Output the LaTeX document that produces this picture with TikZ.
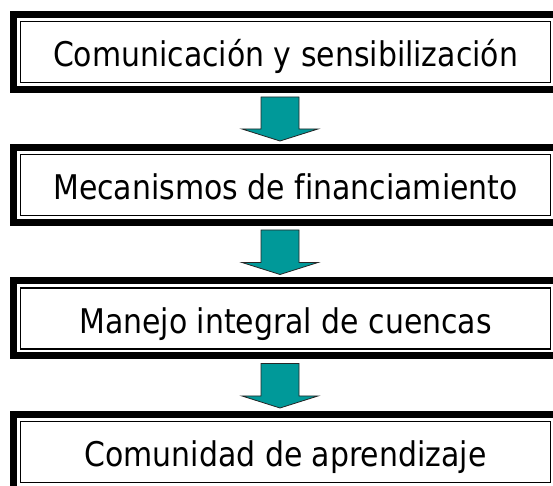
\documentclass[tikz,border=0pt]{standalone}
\usepackage{fontspec}
\setmainfont[FakeStretch=0.88, Ligatures=NoCommon]{DejaVu Sans}
\usepackage{tikz}
\usetikzlibrary{calc}
\usepackage{xcolor}

\definecolor{arrowteal}{RGB}{0,153,153}

\tikzset{
    stage/.style={draw, line width=1.5pt, outer sep=0pt, inner sep=0pt,
        minimum width=530pt, minimum height=61pt,
        text height=36pt, text depth=6pt,
        font=\fontsize{34}{40}\selectfont},
    outerframe/.style={draw, line width=7pt},
    flowarrow/.style={fill=arrowteal, draw=black!85, line width=0.8pt, line join=miter}
}

% thick outer border round a stage box
\newcommand{\stageframe}[1]{%
    \draw[outerframe] ([shift={(-7pt,7pt)}]#1.north west) rectangle ([shift={(7pt,-7pt)}]#1.south east);}

% block arrow from one stage down to the next
\newcommand{\stagearrow}[2]{%
    \draw[flowarrow] let \p1=(#1.south), \p2=(#2.north) in
        (\x1-24.5pt,\y1-14.5pt) -- (\x1+13.5pt,\y1-14.5pt) -- (\x1+13.5pt,\y2+25.5pt)
        -- (\x1+32.5pt,\y2+25.5pt) -- (\x1-5.5pt,\y2+13.5pt) -- (\x1-43.5pt,\y2+25.5pt)
        -- (\x1-24.5pt,\y2+25.5pt) -- cycle;}

\begin{document}
\begin{tikzpicture}[x=1pt, y=1pt]
    \useasboundingbox (0,0) rectangle (553,486);

    \path (285.5,434)   coordinate (P1);
    \path (285.5,301)   coordinate (P2);
    \path (285.5,167.5) coordinate (P3);
    \path (285.5,34)    coordinate (P4);

    \node[stage] (comunicacion) at (P1) {Comunicación y sensibilización};
    \node[stage] (financiamiento) at (P2) {Mecanismos de financiamiento};
    \node[stage] (cuencas) at (P3) {Manejo integral de cuencas};
    \node[stage] (aprendizaje) at (P4) {Comunidad de aprendizaje};

    \stageframe{comunicacion}
    \stageframe{financiamiento}
    \stageframe{cuencas}
    \stageframe{aprendizaje}

    \stagearrow{comunicacion}{financiamiento}
    \stagearrow{financiamiento}{cuencas}
    \stagearrow{cuencas}{aprendizaje}
\end{tikzpicture}
\end{document}
